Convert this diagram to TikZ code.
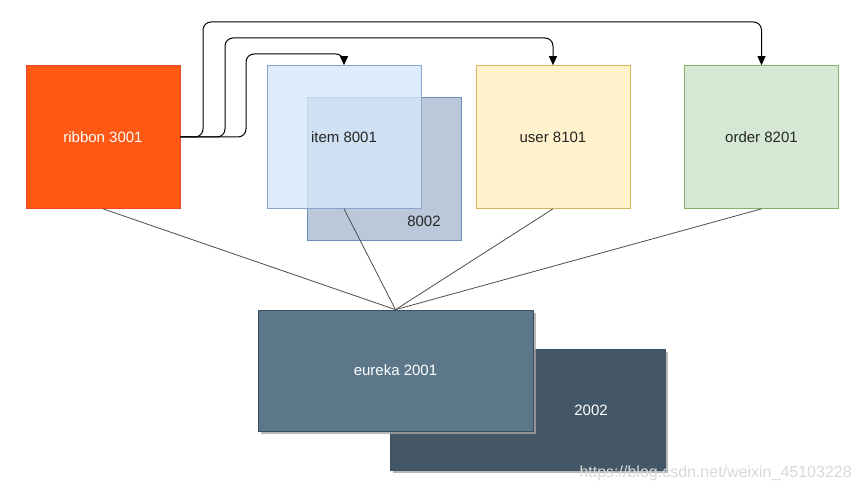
\documentclass[tikz,border=0pt]{standalone}
\usepackage{fontspec}
\setmainfont{Liberation Sans}
\usetikzlibrary{arrows.meta,shadows}
\definecolor{ribfill}{HTML}{FE5815}
\definecolor{ribdraw}{HTML}{F0442A}
\definecolor{itemfill}{HTML}{D6E6FA}
\definecolor{itemdraw}{HTML}{6C8EBF}
\definecolor{bakfill}{HTML}{BAC8D9}
\definecolor{userfill}{HTML}{FFF2CC}
\definecolor{userdraw}{HTML}{D6B656}
\definecolor{ordfill}{HTML}{D5E8D4}
\definecolor{orddraw}{HTML}{82B366}
\definecolor{eurfill}{HTML}{5B7789}
\definecolor{eurfillb}{HTML}{445766}
\definecolor{eurdraw}{HTML}{3A5062}
\definecolor{wmark}{HTML}{D8D8D8}
\tikzset{
  box/.style={rectangle, minimum width=154pt, minimum height=143pt, inner sep=0pt, line width=0.7pt, font=\fontsize{15}{18}\selectfont},
  ebox/.style={rectangle, minimum width=275pt, minimum height=121pt, inner sep=0pt, line width=0.7pt, draw=eurdraw, text=white, font=\fontsize{15}{18}\selectfont, drop shadow={shadow xshift=3pt, shadow yshift=-3pt, fill=black!35, opacity=0.8}},
  link/.style={draw=black!70, line width=0.8pt},
  arr/.style={draw=black, line width=1pt, rounded corners=8pt, -{Triangle[width=8pt,length=9pt]}},
  lbl/.style={font=\fontsize{15}{18}\selectfont}
}
\begin{document}
\begin{tikzpicture}[x=1pt,y=-1pt]
\useasboundingbox (0,0) rectangle (860,492);
% boxes
\node[box, fill=ribfill, draw=ribdraw, text=white] (rib) at (103,137) {ribbon 3001};
\node[box, fill=bakfill, draw=itemdraw] (item2) at (384,168.5) {};
\node[lbl, text=black!85] (item2t) at (424,221) {8002};
\node[box, fill=itemfill, fill opacity=0.8, text opacity=1, draw=itemdraw!80, text=black!85] (item) at (344,137) {item 8001};
\node[box, fill=userfill, draw=userdraw, text=black!85] (user) at (553,137) {user 8101};
\node[box, fill=ordfill, draw=orddraw, text=black!85] (ord) at (761.5,137) {order 8201};
\node[ebox, fill=eurfillb] (eur2) at (527.5,409.5) {};
\node[lbl, text=white] (eur2t) at (591,410) {2002};
\node[ebox, fill=eurfill] (eur) at (395.5,370.5) {eureka 2001};
% links
\draw[link] (rib.south) -- (eur.north);
\draw[link] (item.south) -- (eur.north);
\draw[link] (user.south) -- (eur.north);
\draw[link] (ord.south) -- (eur.north);
% arrows
\coordinate (c1) at (246,54);
\coordinate (c2) at (225,38);
\coordinate (c3) at (203,22);
\draw[arr] (rib.east) -| (c1) -| (item.north);
\draw[arr] (rib.east) -| (c2) -| (user.north);
\draw[arr] (rib.east) -| (c3) -| (ord.north);
% watermark
\node[text=wmark, font=\fontsize{16}{19}\selectfont, anchor=west] (wm) at (576,473) {https://blog.csdn.net/weixin\_45103228};
\end{tikzpicture}
\end{document}
